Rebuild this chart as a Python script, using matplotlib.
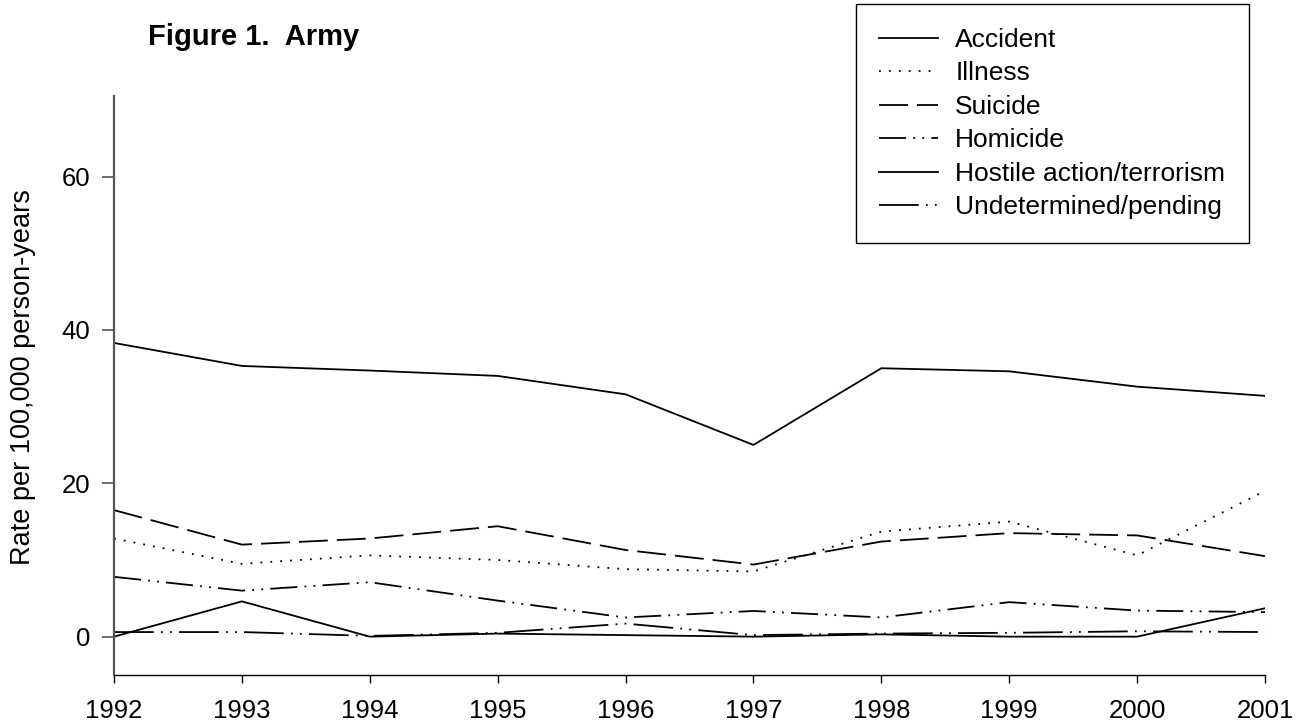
import matplotlib.pyplot as plt

# data
years = [1992, 1993, 1994, 1995, 1996, 1997, 1998, 1999, 2000, 2001]
accident = [38.3, 35.3, 34.7, 34.0, 31.6, 25.0, 35.0, 34.6, 32.6, 31.4]
illness = [12.8, 9.5, 10.6, 10.0, 8.8, 8.5, 13.7, 15.0, 10.6, 19.0]
suicide = [16.5, 12.0, 12.8, 14.4, 11.3, 9.4, 12.4, 13.5, 13.2, 10.5]
homicide = [7.8, 6.0, 7.1, 4.7, 2.5, 3.35, 2.5, 4.5, 3.4, 3.2]
hostile = [0.0, 4.6, 0.0, 0.4, 0.2, 0.0, 0.3, 0.0, 0.0, 3.7]
undetermined = [0.6, 0.6, 0.1, 0.5, 1.7, 0.2, 0.4, 0.5, 0.7, 0.6]

plt.rcParams['font.family'] = ['Liberation Sans', 'DejaVu Sans']

fig = plt.figure(figsize=(13.01, 7.28), dpi=100)
ax = fig.add_axes([114/1301, 1 - 675/728, (1265 - 114)/1301, (675 - 96)/728])

lw = 1.3
ax.plot(years, accident, color='black', lw=lw, label='Accident')
ax.plot(years, illness, color='black', lw=lw, linestyle=(0, (1, 4.5)), label='Illness')
ax.plot(years, suicide, color='black', lw=lw, linestyle=(0, (16, 5)), label='Suicide')
ax.plot(years, homicide, color='black', lw=lw,
        linestyle=(0, (15, 4, 1, 4, 1, 4)), label='Homicide')
ax.plot(years, hostile, color='black', lw=lw, label='Hostile action/terrorism')
ax.plot(years, undetermined, color='black', lw=lw,
        linestyle=(0, (22, 4, 1, 4, 1, 4)), label='Undetermined/pending')

ax.set_xlim(1992, 2001)
ax.set_ylim(-5, 70.5)
ax.set_xticks(years)
ax.set_yticks([0, 20, 40, 60])

for s in ['top', 'right']:
    ax.spines[s].set_visible(False)
ax.spines['left'].set_color('#555555')
ax.spines['left'].set_linewidth(1.6)
ax.spines['bottom'].set_color('black')
ax.spines['bottom'].set_linewidth(1.0)

ax.tick_params(axis='x', direction='out', length=6, width=1, pad=11, labelsize=18.5)
ax.tick_params(axis='y', direction='out', length=9, width=1.2, color='#555555',
               pad=8, labelsize=18.5)

ax.set_ylabel('Rate per 100,000 person-years', fontsize=19.5)
ax.yaxis.set_label_coords(-0.068, 0.515)

fig.text(148/1301, 1 - 37/728, 'Figure 1.  Army', fontsize=21, fontweight='bold',
         va='center', ha='left')

leg = ax.legend(loc='upper right', bbox_to_anchor=(1249/1301, 1 - 4/728),
                bbox_transform=fig.transFigure, borderaxespad=0, fontsize=19,
                handlelength=2.24, handletextpad=0.64, labelspacing=0.36,
                borderpad=0.9, fancybox=False, framealpha=1, edgecolor='black')
leg.get_frame().set_linewidth(1.0)

fig.savefig('out.png', dpi=100)
